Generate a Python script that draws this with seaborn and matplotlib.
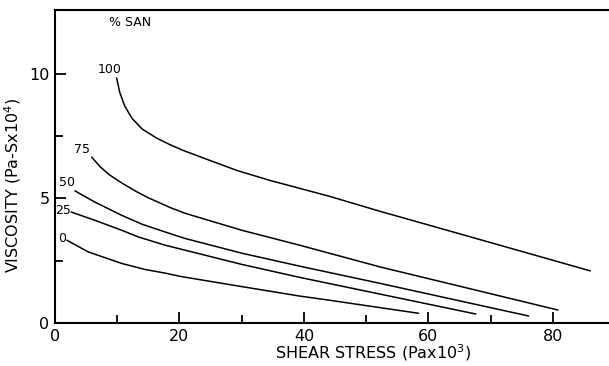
import numpy as np
import pandas as pd
import matplotlib
matplotlib.use("Agg")
import matplotlib.pyplot as plt
import seaborn as sns

# Viscosity vs shear stress for blends with different SAN content
san_levels = ["100", "75", "50", "25", "0"]

stress_100 = [9.9, 10.4, 11.2, 12.4, 14.0, 16.3, 18.4, 20.5, 23.8, 29.2, 34.5, 39.9, 44.1, 52.2, 63.4, 86.0]
visc_100 = [9.83, 9.25, 8.70, 8.20, 7.78, 7.42, 7.16, 6.93, 6.62, 6.12, 5.72, 5.36, 5.08, 4.48, 3.69, 2.09]

stress_75 = [5.9, 7.2, 8.7, 10.7, 13.0, 15.0, 18.5, 20.9, 30.0, 39.3, 52.2, 80.8]
visc_75 = [6.65, 6.28, 5.95, 5.62, 5.28, 5.02, 4.63, 4.40, 3.72, 3.12, 2.25, 0.52]

stress_50 = [3.2, 6.4, 10.7, 14.0, 17.7, 20.9, 30.0, 39.3, 52.2, 76.1]
visc_50 = [5.30, 4.85, 4.32, 3.96, 3.65, 3.39, 2.80, 2.28, 1.59, 0.28]

stress_25 = [2.6, 6.4, 10.7, 13.4, 17.7, 20.9, 30.0, 39.3, 52.2, 67.6]
visc_25 = [4.45, 4.12, 3.72, 3.45, 3.12, 2.92, 2.35, 1.83, 1.16, 0.36]

stress_0 = [1.9, 5.35, 10.7, 14.4, 17.7, 20.1, 30.0, 39.3, 43.9, 58.4]
visc_0 = [3.32, 2.85, 2.39, 2.15, 2.00, 1.87, 1.46, 1.08, 0.92, 0.39]

x_ticks = [0, 20, 40, 60, 80]
y_ticks = [0, 5, 10]

series = {
    "100": (stress_100, visc_100),
    "75": (stress_75, visc_75),
    "50": (stress_50, visc_50),
    "25": (stress_25, visc_25),
    "0": (stress_0, visc_0),
}

frames = []
for level in san_levels:
    xs, ys = series[level]
    frames.append(pd.DataFrame({"stress": xs, "viscosity": ys, "san": level}))
df = pd.concat(frames, ignore_index=True)

sns.set_theme(style="ticks")
plt.rcParams["font.family"] = ["DejaVu Sans"]

fig = plt.figure(figsize=(6.09, 3.66), dpi=100)
ax = fig.add_axes([0.0903, 0.1175, 0.9097, 0.855])

sns.lineplot(data=df, x="stress", y="viscosity", hue="san",
             palette=["black"] * len(san_levels), estimator=None,
             sort=False, legend=False, linewidth=1.1, ax=ax)

# curve labels next to the start of each line
label_pos = {
    "100": (8.8, 10.16),
    "75": (4.3, 6.96),
    "50": (1.9, 5.64),
    "25": (1.3, 4.52),
    "0": (1.1, 3.40),
}
for level in san_levels:
    lx, ly = label_pos[level]
    ax.text(lx, ly, level, ha="center", va="center", fontsize=9, color="black")

ax.text(8.7, 12.04, "% SAN", ha="left", va="center", fontsize=9, color="black")

ax.set_xlim(0, 89)
ax.set_ylim(0, 12.55)
ax.set_xticks(x_ticks)
ax.set_xticks([10, 30, 50, 70], minor=True)
ax.set_yticks(y_ticks)
ax.set_yticks([2.5, 7.5], minor=True)
ax.set_xticklabels([str(v) for v in x_ticks])
ax.set_yticklabels([str(v) for v in y_ticks])

ax.tick_params(axis="both", which="major", direction="in", length=8,
               width=1.3, labelsize=11.5, colors="black", pad=4)
ax.tick_params(axis="both", which="minor", direction="in", length=6,
               width=1.3, colors="black")

for side in ["left", "bottom", "top"]:
    ax.spines[side].set_linewidth(1.5)
    ax.spines[side].set_color("black")
ax.spines["right"].set_visible(False)

ax.set_xlabel("SHEAR STRESS (Pax10$^3$)", fontsize=11.5, color="black")
ax.set_ylabel("VISCOSITY (Pa-Sx10$^4$)", fontsize=11.5, color="black")
ax.xaxis.set_label_coords(0.575, -0.062)
ax.yaxis.set_label_coords(-0.058, 0.44)

fig.savefig("out.png", dpi=100)
